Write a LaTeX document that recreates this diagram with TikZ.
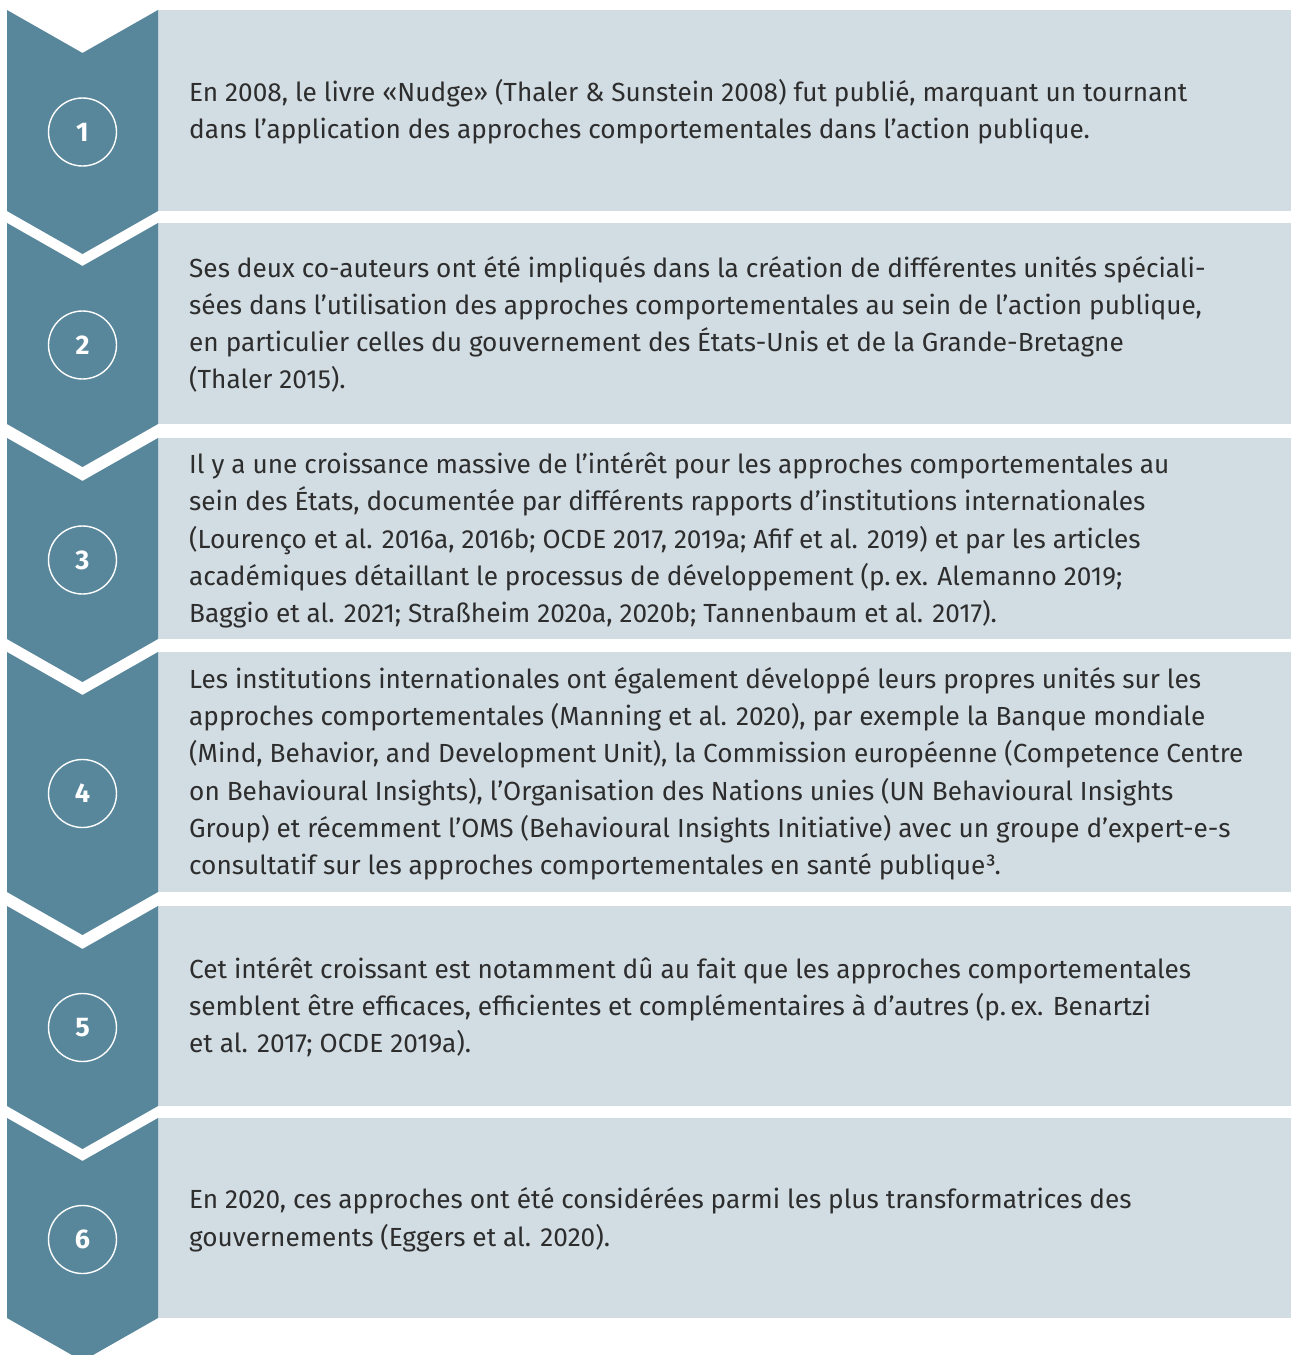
\documentclass[tikz,border=0pt]{standalone}
\usepackage{fontspec}
\setmainfont{Fira Sans}
\definecolor{chevc}{HTML}{58879C}
\definecolor{boxc}{HTML}{D1DCE3}
\definecolor{txtc}{HTML}{2D2D2D}
\newcommand\steprow[3]{% #1 number, #2 top, #3 bottom
  \fill[boxc] (158,#2) rectangle (1291,#3);
  \fill[chevc] (7,#2) -- (82.5,#2+43) -- (158,#2) -- (158,#3) -- (82.5,#3+43) -- (7,#3) -- cycle;
  \node[numcirc] (n#1) at (82.5,{(#2+#3+43)/2}) {#1};
}
\newcommand\rowtext[5]{% #1 row, #2 top, #3 bottom, #4 number of lines, #5 lines
  \pgfmathsetmacro\fb{(#2+#3)/2-(19+(#4-1)*37.25)/2+19}
  \foreach \t [count=\i] in {#5}{
    \node[txtline] (t#1-\i) at (189,{\fb+(\i-1)*37.25}) {\t};
  }
}
\begin{document}
\begin{tikzpicture}[x=1pt,y=-1pt,
  numcirc/.style={circle,draw=white,line width=1.4pt,minimum size=68pt,inner sep=0pt,text=white,font=\fontsize{27}{27}\selectfont\bfseries},
  txtline/.style={anchor=base west,inner sep=0pt,text=txtc,font=\fontsize{26.2}{30}\selectfont}]
\useasboundingbox (0,0) rectangle (1291,1355);
\fill[white] (0,0) rectangle (1291,1355);
\clip (0,0) rectangle (1291,1355);
\steprow{1}{10}{211}
\steprow{2}{223}{424}
\steprow{3}{438}{639}
\steprow{4}{652}{892}
\steprow{5}{906}{1106}
\steprow{6}{1118}{1318}
\rowtext{1}{10}{211}{2}{{En 2008, le livre «Nudge» (Thaler \& Sunstein 2008) fut publié, marquant un tournant},{dans l’application des approches comportementales dans l’action publique.}}
\rowtext{2}{223}{424}{4}{{Ses deux co-auteurs ont été impliqués dans la création de différentes unités spéciali-},{sées dans l’utilisation des approches comportementales au sein de l’action publique,},{en particulier celles du gouvernement des États-Unis et de la Grande-Bretagne},{(Thaler 2015).}}
\rowtext{3}{438}{639}{5}{{Il y a une croissance massive de l’intérêt pour les approches comportementales au},{sein des États, documentée par différents rapports d’institutions internationales},{(Lourenço et al. 2016a, 2016b; OCDE 2017, 2019a; Afif et al. 2019) et par les articles},{académiques détaillant le processus de développement (p.\,ex. Alemanno 2019;},{Baggio et al. 2021; Straßheim 2020a, 2020b; Tannenbaum et al. 2017).}}
\rowtext{4}{652}{892}{6}{{Les institutions internationales ont également développé leurs propres unités sur les},{approches comportementales (Manning et al. 2020), par exemple la Banque mondiale},{(Mind, Behavior, and Development Unit), la Commission européenne (Competence Centre},{on Behavioural Insights), l’Organisation des Nations unies (UN Behavioural Insights},{Group) et récemment l’OMS (Behavioural Insights Initiative) avec un groupe d’expert-e-s},{consultatif sur les approches comportementales en santé publique³.}}
\rowtext{5}{906}{1106}{3}{{Cet intérêt croissant est notamment dû au fait que les approches comportementales},{semblent être efficaces, efficientes et complémentaires à d’autres (p.\,ex. Benartzi},{et al. 2017; OCDE 2019a).}}
\rowtext{6}{1118}{1318}{2}{{En 2020, ces approches ont été considérées parmi les plus transformatrices des},{gouvernements (Eggers et al. 2020).}}
\end{tikzpicture}
\end{document}
